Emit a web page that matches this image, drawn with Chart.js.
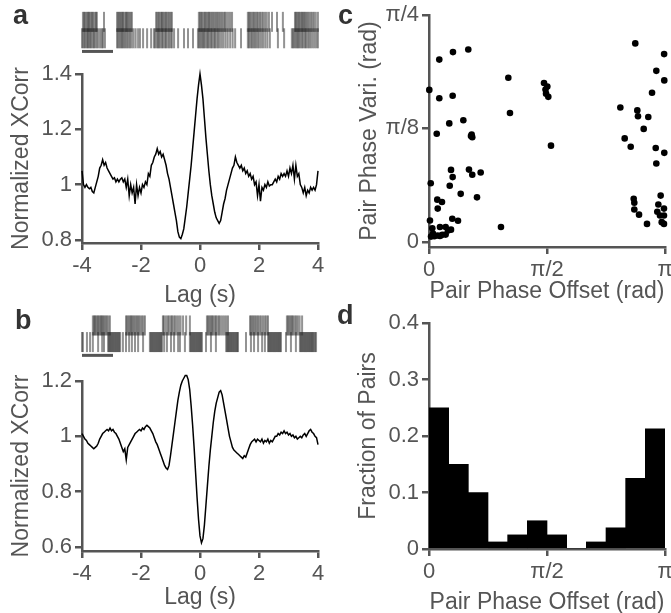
<!DOCTYPE html>
<html>
<head>
<meta charset="utf-8">
<script src="https://cdn.jsdelivr.net/npm/chart.js@4.4.0/dist/chart.umd.min.js"></script>
<style>
  body { margin: 0; background: #fff; }
  #fig { position: relative; width: 671px; height: 613px; overflow: hidden; font-family: "Liberation Sans", Arial, sans-serif; }
  #fig canvas, .tag { position: absolute; }
  .tag { font-weight: bold; font-size: 27px; line-height: 27px; color: #333; }
</style>
</head>
<body>
<div id="fig">
  <canvas id="raster-a" width="330" height="70" style="left:0;top:0"></canvas>
  <canvas id="xcorr-a" width="330" height="250" style="left:0;top:60px"></canvas>
  <canvas id="raster-b" width="330" height="74" style="left:0;top:300px"></canvas>
  <canvas id="xcorr-b" width="330" height="243" style="left:0;top:370px"></canvas>
  <canvas id="phase-scatter" width="341" height="310" style="left:330px;top:0"></canvas>
  <canvas id="phase-hist" width="341" height="316" style="left:330px;top:300px"></canvas>
  <div class="tag" style="left:13px;top:2px">a</div>
  <div class="tag" style="left:15px;top:307px">b</div>
  <div class="tag" style="left:338px;top:2px">c</div>
  <div class="tag" style="left:337px;top:302px">d</div>
</div>
<script>
// spike times (s) of the two cells in each example pair
const spikesA1 = [0.03,0.07,0.10,0.15,0.18,0.22,0.24,0.29,0.33,0.36,0.41,0.45,0.48,
  0.71,
  1.13,1.17,1.20,1.24,1.27,1.31,1.33,1.38,1.42,1.45,1.49,1.53,1.57,1.61,
  2.39,2.43,2.47,2.50,2.55,2.58,2.62,2.66,2.70,2.73,2.78,2.82,2.86,2.90,
  3.77,3.81,3.85,3.88,3.93,3.97,4.01,4.05,4.09,4.12,4.17,4.21,4.25,4.30,4.34,4.38,4.43,4.47,4.52,4.57,4.61,4.66,4.72,4.78,4.84,
  5.35,5.39,5.43,5.47,5.52,5.56,5.60,5.65,5.69,5.74,5.79,5.84,5.90,5.96,6.03,6.13,
  6.29,6.48,
  6.87,6.90,6.94,6.98,7.01,7.05,7.09,7.12,7.16,7.20,7.24,7.28,7.33,7.38,7.43,7.48,7.54,7.61];
const spikesA2 = [0.00,0.04,0.08,0.11,0.16,0.19,0.23,0.27,0.30,0.35,0.39,0.43,0.48,0.53,0.59,0.64,0.68,
  0.74,
  1.13,1.17,1.21,1.25,1.29,1.33,1.37,1.41,1.46,1.50,1.55,1.60,1.66,1.73,1.81,
  1.87,1.97,2.10,2.23,
  2.32,2.36,2.41,2.45,2.49,2.53,2.58,2.62,2.67,2.71,2.76,2.81,2.86,2.90,
  2.97,3.10,3.29,3.42,3.58,
  3.74,3.78,3.82,3.86,3.90,3.94,3.98,4.03,4.07,4.11,4.16,4.20,4.25,4.29,4.34,4.39,4.44,4.50,4.56,4.63,4.70,4.78,4.86,4.94,
  5.13,
  5.35,5.39,5.44,5.48,5.53,5.57,5.62,5.67,5.72,5.78,5.84,5.91,5.98,6.06,
  6.32,6.52,
  6.77,6.81,6.85,6.89,6.93,6.97,7.01,7.05,7.10,7.14,7.19,7.23,7.28,7.33,7.38,7.44,7.50,7.56,7.61];
const spikesB1 = [0.35,0.39,0.42,0.46,0.50,0.53,0.57,0.61,0.64,0.68,0.72,0.76,0.80,0.85,0.90,
  1.42,1.46,1.50,1.54,1.58,1.62,1.66,1.70,1.75,1.79,1.83,1.88,1.93,1.98,2.03,
  2.61,2.64,2.70,2.76,2.80,2.86,2.90,2.95,3.00,3.06,3.12,3.18,3.26,3.36,3.48,
  4.03,4.07,4.11,4.15,4.19,4.23,4.28,4.32,4.37,4.42,4.47,4.53,4.59,4.65,4.71,
  5.42,5.46,5.50,5.54,5.59,5.63,5.68,5.73,5.78,5.84,5.90,5.95,6.00,
  6.61,6.65,6.69,6.73,6.77,6.81,6.86,6.91,6.96,7.02,7.10];
const spikesB2 = [0.00,0.03,0.16,0.26,0.35,0.52,0.65,0.71,
  0.84,0.87,0.90,0.93,0.96,0.99,1.02,1.05,1.08,1.11,1.14,1.17,1.20,1.23,
  1.32,1.42,1.52,1.61,1.71,1.81,1.97,
  2.19,2.22,2.25,2.28,2.31,2.34,2.37,2.40,2.43,2.46,2.49,2.52,2.55,2.58,
  2.65,2.74,2.87,2.97,3.10,3.16,3.32,
  3.48,3.51,3.54,3.57,3.60,3.63,3.66,3.69,3.72,3.75,3.78,3.81,3.84,3.87,
  4.00,4.16,4.32,
  4.65,4.68,4.71,4.74,4.77,4.80,4.83,4.86,4.89,4.92,4.95,4.98,5.01,5.03,
  5.29,5.45,5.55,5.68,5.81,5.90,
  6.00,6.03,6.06,6.09,6.12,6.15,6.18,6.21,6.24,6.27,6.30,6.33,6.36,6.39,6.42,
  6.58,6.74,6.90,
  7.03,7.06,7.09,7.12,7.15,7.18,7.21,7.24,7.27,7.30,7.33,7.36,7.39,7.42,7.45,7.48,7.52,7.55];
const rasterSpan = 7.613;   // seconds shown in each raster
const scaleBar = [0, 1];    // 1 s scale bar

// normalized cross-correlograms, sampled every 50 ms from -4 s to 4 s
const lagStep = 0.05;
const xcorrA = [
  1.05,1.00,0.99,1.00,0.99,0.985,0.99,0.975,0.97,0.99,1.01,1.03,1.06,1.07,1.09,1.07,1.08,1.06,1.05,1.04,
  1.03,1.02,1.025,1.01,1.02,1.01,1.02,1.025,1.01,1.02,0.99,1.02,0.96,1.00,0.97,0.99,0.93,1.00,0.96,0.99,
  0.97,1.00,0.99,1.01,1.00,1.04,1.03,1.07,1.08,1.10,1.11,1.13,1.11,1.12,1.10,1.11,1.09,1.07,1.04,1.02,
  0.99,0.96,0.93,0.90,0.87,0.83,0.81,0.805,0.82,0.84,0.88,0.92,0.97,1.02,1.07,1.13,1.19,1.25,1.31,1.36,
  1.40,1.36,1.31,1.24,1.17,1.11,1.05,1.00,0.96,0.93,0.90,0.88,0.87,0.86,0.87,0.90,0.93,0.95,0.98,1.00,
  1.02,1.04,1.06,1.07,1.10,1.08,1.07,1.06,1.07,1.05,1.06,1.04,1.05,1.03,1.04,1.02,1.03,1.00,1.01,0.96,
  1.00,0.94,0.99,0.98,1.00,0.99,1.01,0.995,1.00,1.00,1.01,1.02,1.01,1.03,1.02,1.04,1.03,1.04,1.03,1.05,
  1.03,1.06,1.04,1.07,1.02,1.07,1.03,1.04,1.00,0.99,0.97,0.99,0.96,0.98,0.97,0.99,0.98,0.99,0.98,1.00,
  1.05];
const xcorrB = [
  1.01,1.00,0.99,0.985,0.975,0.97,0.965,0.96,0.955,0.96,0.965,0.975,0.99,1.00,1.01,1.015,1.02,1.025,1.02,1.03,
  1.02,1.025,1.015,1.01,1.00,0.99,0.975,0.96,0.945,0.955,0.915,0.96,0.97,0.98,0.99,1.00,1.01,1.015,1.02,1.025,
  1.02,1.03,1.025,1.035,1.04,1.035,1.03,1.02,1.01,0.995,0.98,0.97,0.955,0.94,0.925,0.91,0.895,0.885,0.88,0.895,
  0.93,0.97,1.01,1.05,1.09,1.13,1.16,1.185,1.20,1.21,1.22,1.22,1.205,1.17,1.11,1.04,0.96,0.87,0.78,0.70,
  0.64,0.615,0.63,0.68,0.75,0.82,0.89,0.95,1.00,1.05,1.09,1.12,1.14,1.16,1.165,1.15,1.12,1.09,1.06,1.03,
  1.00,0.98,0.96,0.95,0.945,0.94,0.935,0.93,0.925,0.92,0.93,0.925,0.94,0.955,0.97,0.98,0.985,0.99,0.98,0.99,
  0.985,0.98,0.99,0.975,0.985,0.98,0.99,0.975,0.985,0.98,0.99,1.00,1.00,1.01,1.005,1.015,1.01,1.02,1.01,1.015,
  1.005,1.01,1.00,1.005,0.995,1.00,0.99,0.995,1.00,0.995,1.005,1.01,1.00,1.01,1.02,1.025,1.015,1.01,1.00,0.995,
  0.97];
const lagTicks = [-4, -2, 0, 2, 4];
const xcorrTicksA = [0.8, 1, 1.2, 1.4];
const xcorrTicksB = [0.6, 0.8, 1, 1.2];

// pair phase offset vs. pair phase variability (rad)
const phaseOffset = [0.523,0.319,0.137,0.004,0.137,0.315,1.056,1.078,0.457,0.270,0.103,0.568,0.576,0.559,
  0.023,0.293,0.315,0.276,0.532,0.576,0.688,0.422,0.639,0.110,0.173,0.116,0.310,0.386,0.013,0.044,
  0.146,0.222,0.293,0.958,0.027,0.071,0.116,0.177,0.222,0.146,0.253,0.053,
  1.531,1.575,1.558,1.588,1.551,1.624,2.746,3.130,3.026,3.132,2.969,2.547,2.773,2.782,2.919,2.858,
  2.605,2.685,3.018,3.132,3.026,2.725,2.733,2.733,2.796,2.902,3.084,3.053,3.128,3.039,3.075,3.128,
  3.098,3.128];
const phaseVari = [0.666,0.657,0.631,0.526,0.497,0.506,0.568,0.446,0.421,0.410,0.374,0.371,0.362,0.366,
  0.203,0.249,0.224,0.194,0.250,0.232,0.240,0.166,0.154,0.146,0.138,0.115,0.080,0.073,0.074,0.047,
  0.051,0.051,0.042,0.051,0.018,0.019,0.022,0.024,0.025,0.020,0.039,0.029,
  0.550,0.538,0.513,0.502,0.527,0.333,0.687,0.650,0.592,0.559,0.516,0.465,0.455,0.435,0.432,0.391,
  0.358,0.329,0.325,0.308,0.271,0.149,0.135,0.112,0.094,0.062,0.160,0.129,0.115,0.104,0.091,0.091,
  0.068,0.062];
const offsetTicks = [0, Math.PI / 2, Math.PI];
const offsetTickLabels = ['0', 'π/2', 'π'];
const variTicks = [0, Math.PI / 8, Math.PI / 4];
const variTickLabels = ['0', 'π/8', 'π/4'];

// histogram of phase offsets, 12 bins of π/12
const offsetBins = [1, 2, 3, 4, 5, 6, 7, 8, 9, 10, 11, 12];
const pairFraction = [0.25, 0.15, 0.10, 0.0125, 0.025, 0.05, 0.025, 0, 0.0125, 0.0375, 0.125, 0.2125];
const fractionTicks = [0, 0.1, 0.2, 0.3, 0.4];

const FONT_FAMILY = '"Liberation Sans", Arial, Helvetica, sans-serif';
const GRAY = '#555555';
const TICK_FONT = { family: FONT_FAMILY, size: 22 };
const TITLE_FONT = { family: FONT_FAMILY, size: 23 };

const baseOptions = {
  responsive: false,
  animation: false,
  devicePixelRatio: 1,
  events: [],
  plugins: { legend: { display: false }, tooltip: { enabled: false } }
};

// axis with fixed box size so that the plot areas line up between panels
function axis({ position, min, max, ticks, labels, size, title, titlePadding }) {
  const horizontal = position === 'bottom';
  return {
    type: 'linear',
    position: position,
    min: min,
    max: max,
    offset: false,
    afterBuildTicks: s => { s.ticks = ticks.map(v => ({ value: v })); },
    afterFit: s => {
      if (horizontal) { s.height = size; s.paddingLeft = 0; s.paddingRight = 0; }
      else { s.width = size; s.paddingTop = 0; s.paddingBottom = 0; }
    },
    border: { color: GRAY, width: 2.5 },
    grid: { offset: false, drawOnChartArea: false, drawTicks: true, tickLength: 7, color: GRAY, lineWidth: 2.5 },
    ticks: {
      color: GRAY, font: TICK_FONT, padding: 3, maxRotation: 0, autoSkip: false,
      callback: (v, i) => labels[i]
    },
    title: { display: true, text: title, color: GRAY, font: TITLE_FONT, padding: titlePadding }
  };
}

function drawRaster(id, top, bottom, padTop, padBottom) {
  const spikeStyle = {
    pointStyle: 'line', rotation: 90, pointRadius: 10,
    pointBorderColor: 'rgba(40,40,40,0.5)', pointBorderWidth: 2, clip: false
  };
  new Chart(document.getElementById(id), {
    type: 'scatter',
    data: {
      datasets: [
        { data: top.map(t => ({ x: t, y: 1 })), ...spikeStyle },
        { data: bottom.map(t => ({ x: t, y: 0 })), ...spikeStyle },
        { data: scaleBar.map(t => ({ x: t, y: -0.8 })), showLine: true, borderColor: GRAY, borderWidth: 3, pointRadius: 0, clip: false }
      ]
    },
    options: {
      ...baseOptions,
      layout: { padding: { left: 82, right: 12, top: padTop, bottom: padBottom } },
      scales: {
        x: { type: 'linear', display: false, min: 0, max: rasterSpan },
        y: { type: 'linear', display: false, min: -1.2, max: 1.6 }
      }
    }
  });
}

function drawXcorr(id, values, yTicks, yMin, yMax, padTop, xHeight, titleBottom) {
  const lags = values.map((_, i) => Math.round((-4 + i * lagStep) * 100) / 100);
  new Chart(document.getElementById(id), {
    type: 'line',
    data: {
      datasets: [{
        data: values.map((v, i) => ({ x: lags[i], y: v })),
        borderColor: '#000', borderWidth: 1.5, pointRadius: 0, tension: 0, clip: false
      }]
    },
    options: {
      ...baseOptions,
      layout: { padding: { left: 0, right: 12, top: padTop, bottom: 0 } },
      scales: {
        x: axis({ position: 'bottom', min: -4, max: 4, ticks: lagTicks, labels: lagTicks.map(String),
          size: xHeight, title: 'Lag (s)', titlePadding: { bottom: titleBottom } }),
        y: axis({ position: 'left', min: yMin, max: yMax, ticks: yTicks, labels: yTicks.map(String),
          size: 82, title: 'Normalized XCorr', titlePadding: { top: 8 } })
      }
    }
  });
}

drawRaster('raster-a', spikesA1, spikesA2, 9, 5);
drawRaster('raster-b', spikesB1, spikesB2, 15.5, 2.5);
drawXcorr('xcorr-a', xcorrA, xcorrTicksA, 0.789, 1.4, 14, 67, 1);
drawXcorr('xcorr-b', xcorrB, xcorrTicksB, 0.5855, 1.2, 11, 62, 2);

// c: scatter of phase offset vs variability
new Chart(document.getElementById('phase-scatter'), {
  type: 'scatter',
  data: {
    datasets: [{
      data: phaseOffset.map((x, i) => ({ x: x, y: phaseVari[i] })),
      pointRadius: 3.3, pointBackgroundColor: '#000', pointBorderWidth: 0, clip: false
    }]
  },
  options: {
    ...baseOptions,
    layout: { padding: { left: 0, right: 6, top: 15, bottom: 0 } },
    scales: {
      x: axis({ position: 'bottom', min: 0, max: Math.PI, ticks: offsetTicks, labels: offsetTickLabels,
        size: 63, title: 'Pair Phase Offset (rad)', titlePadding: { bottom: 5 } }),
      y: axis({ position: 'left', min: -0.018, max: Math.PI / 4, ticks: variTicks, labels: variTickLabels,
        size: 99, title: 'Pair Phase Vari. (rad)', titlePadding: { top: 26 } })
    }
  }
});

// d: histogram of phase offsets
new Chart(document.getElementById('phase-hist'), {
  type: 'bar',
  data: {
    labels: offsetBins,
    datasets: [{
      data: pairFraction,
      backgroundColor: '#000', borderWidth: 0,
      barPercentage: 1, categoryPercentage: 1
    }]
  },
  options: {
    ...baseOptions,
    layout: { padding: { left: 0, right: 6, top: 23, bottom: 0 } },
    scales: {
      x: { type: 'category', display: false, offset: true },
      phase: axis({ position: 'bottom', min: 0, max: Math.PI, ticks: offsetTicks, labels: offsetTickLabels,
        size: 67, title: 'Pair Phase Offset (rad)', titlePadding: { bottom: 0 } }),
      y: axis({ position: 'left', min: 0, max: 0.4, ticks: fractionTicks, labels: fractionTicks.map(String),
        size: 99, title: 'Fraction of Pairs', titlePadding: { top: 25 } })
    }
  }
});
</script>
</body>
</html>
